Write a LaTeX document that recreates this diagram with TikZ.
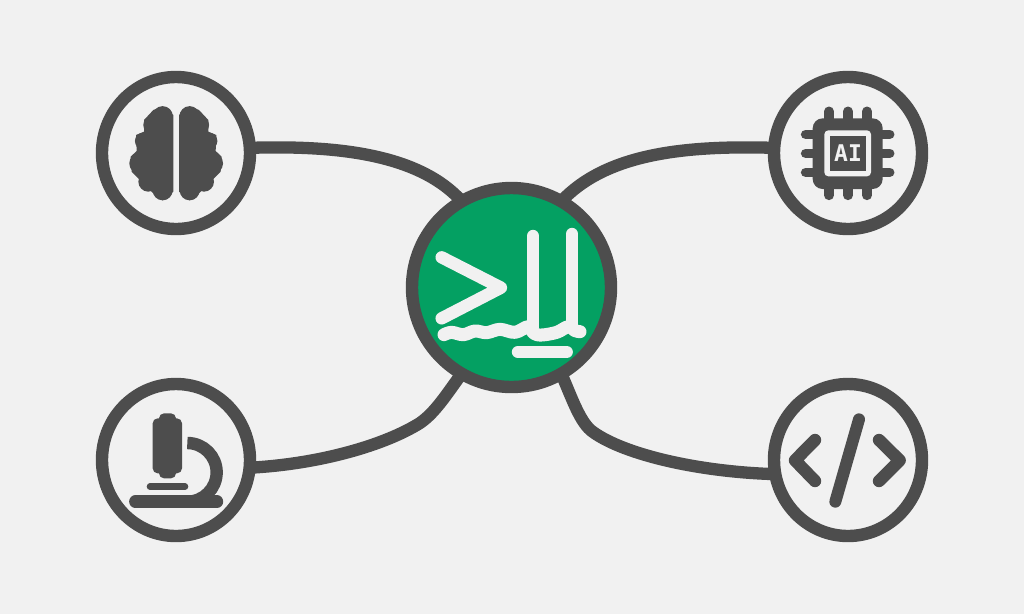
\documentclass[tikz,border=0pt]{standalone}
\usepackage{fontspec}
\newfontfamily\chipfont{DejaVu Sans Mono}
\usetikzlibrary{shapes.geometric,backgrounds}
\definecolor{pagebg}{HTML}{F1F1F1}
\definecolor{ink}{HTML}{4D4D4D}
\definecolor{hubgreen}{HTML}{04A062}
\tikzset{
  ring/.style={ellipse,draw=ink,fill=pagebg,line width=12.4pt,inner sep=0pt,outer sep=0pt,minimum width=148pt,minimum height=152pt},
  hubring/.style={ring,fill=hubgreen,minimum width=199pt,minimum height=199pt},
  wire/.style={draw=ink,line width=12.3pt},
  zoomA/.style={x=0.33333pt,y=-0.33333pt},
  stroke/.style={line width=12.4pt,line cap=round,line join=round},
  inkstroke/.style={stroke,draw=ink},
  hubstroke/.style={stroke,draw=pagebg}
}
\begin{document}
\begin{tikzpicture}[x=1pt,y=-1pt]
\useasboundingbox (0,0) rectangle (1024,614);
\node[ring] (brain) at (176,153) {};
\node[ring] (scope) at (176,460) {};
\node[ring] (chip) at (848,153) {};
\node[ring] (code) at (848,460) {};
\node[hubring] (hub) at (511.5,287.5) {};
\coordinate (bendL) at (420,423);
\coordinate (bendR) at (593,432);
\begin{scope}[on background layer]
\fill[pagebg] (0,0) rectangle (1024,614);
\draw[wire] (brain.4) .. controls (340,145) and (420,155) .. (hub.120);
\draw[wire] (chip.176) .. controls (680,145) and (605,155) .. (hub.60);
\draw[wire] (scope.-6) .. controls (320,464) and (385,445) .. (bendL) .. controls (436,412) and (448,392) .. (hub.-120);
\draw[wire] (code.-169) .. controls (700,472) and (625,455) .. (bendR) .. controls (580,423) and (572,398) .. (hub.-60);
\end{scope}
% hub glyph
\begin{scope}[shift={(400,180)},zoomA]
\draw[hubstroke] (125,232) -- (303,323) -- (125,415);
\draw[hubstroke] (399,168) -- (399,440);
\draw[hubstroke] (516,162) -- (516,440);
\draw[hubstroke,line width=13pt] plot[smooth,tension=0.6] coordinates {(132,464) (155,457) (190,464) (225,453) (260,458) (300,448) (345,457) (385,440) (402,460) (425,465) (470,457) (505,440) (525,452) (540,455)};
\draw[hubstroke] (354,516) -- (500,516);
\end{scope}
% brain
\begin{scope}[shift={(90,65)},zoomA]
\foreach \m in {0,1}{
  \begin{scope}[shift={(\m*517,0)},xscale={1-2*\m}]
  \fill[ink] (218,154) circle[radius=10.2pt];
  \fill[ink] (185,180) circle[radius=8.4pt];
  \fill[ink] (160,228) circle[radius=8.4pt];
  \fill[ink] (150,295) circle[radius=10.7pt];
  \fill[ink] (175,350) circle[radius=10pt];
  \fill[ink] (218,376) circle[radius=10pt];
  \fill[ink] (218,124) -- (250,150) -- (250,380) -- (218,406) -- (190,385) -- (150,345) -- (125,320) -- (122,275) -- (140,258) -- (138,210) -- (162,200) -- (162,165) -- (190,135) -- cycle;
  \end{scope}
}
\end{scope}
% microscope
\begin{scope}[shift={(90,375)},zoomA]
\fill[ink,rounded corners=5pt] (188,130) rectangle (276,295);
\fill[ink,rounded corners=5pt] (207,115) rectangle (258,310);
\draw[inkstroke,line width=6.6pt] (180,335) -- (285,335);
\draw[inkstroke] (136,380) -- (381,380);
\draw[ink,line width=12.4pt] (292,204) .. controls (340.6,204) and (380,243.4) .. (380,292) .. controls (380,340.6) and (340.6,380) .. (292,380);
\end{scope}
% chip
\begin{scope}[shift={(765,65)},zoomA]
\foreach \p in {192,249,306}{
  \draw[inkstroke,line width=9.6pt] (\p,139) -- (\p,391);
}
\foreach \p in {208,265,322}{
  \draw[inkstroke,line width=9.6pt] (122,\p) -- (374,\p);
}
\fill[ink,rounded corners=10pt] (143,160) rectangle (353,372);
\fill[pagebg,rounded corners=4pt] (178,196) rectangle (318,334);
\fill[ink] (196,212) rectangle (302,318);
\node[text=pagebg,font=\chipfont\bfseries\fontsize{23}{23}\selectfont,inner sep=0pt] (chiplabel) at (249,265) {AI};
\end{scope}
% code
\begin{scope}[shift={(765,375)},zoomA]
\draw[inkstroke] (150,195) -- (90,256) -- (150,318);
\draw[inkstroke] (342,195) -- (404,256) -- (342,318);
\draw[inkstroke,line width=12pt] (282,133) -- (211,380);
\end{scope}
\end{tikzpicture}
\end{document}
